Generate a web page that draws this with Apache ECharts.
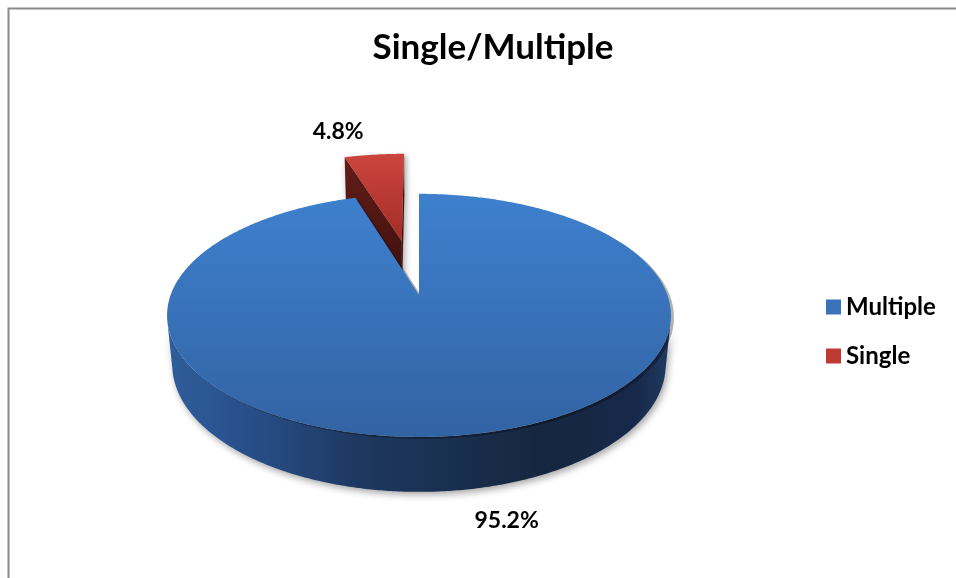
<!DOCTYPE html>
<html>
<head>
<meta charset="utf-8">
<script src="https://cdn.jsdelivr.net/npm/echarts@6/dist/echarts.min.js"></script>
<style>
html, body { margin: 0; padding: 0; background: #ffffff; }
#chart { width: 956px; height: 578px; }
</style>
</head>
<body>
<div id="chart"></div>
<script>
// Chart data
const categories = ['Multiple', 'Single'];
const shares = [95.2, 4.8];
const titleText = 'Single/Multiple';

// Perspective camera used to draw the 3D pie (screen centre, focal length,
// camera distance in pie radii, tilt of the view, slab thickness in radii)
const view = { cx: 419, cy: 295, focal: 1304, dist: 5.25, tilt: 28.4 * Math.PI / 180, depth: 0.228 };
// How far each slice is pulled out from the centre (in pie radii)
const explodeBy = [0, 0.5];
// Label offset from the slice rim, in pixels
const labelShift = [[44, 31], [-36, -23]];

const palette = [
  {
    legend: '#3a73ba',
    top: ['#3e80ce', '#3263a3'],
    wall: [[0, '#2f5d9b'], [0.12, '#2a5290'], [0.4, '#1d375d'], [0.75, '#15263f'], [0.93, '#17294a'], [1, '#1f3a62']],
    side: ['#24456f', '#1a3050']
  },
  {
    legend: '#bd3a33',
    top: ['#cb453d', '#a42d27'],
    wall: [[0, '#6a1f1a'], [1, '#3a0e0b']],
    side: ['#641d18', '#3c0f0c']
  }
];

const ct = Math.cos(view.tilt), st = Math.sin(view.tilt);
const camZ = view.dist * ct;

function project(X, Y, Z) {
  const up = Y * ct - Z * st;
  const dz = view.dist - (Y * st + Z * ct);
  return [view.cx + view.focal * X / dz, view.cy - view.focal * up / dz];
}

function rim(deg, Y, o) {
  const t = deg * Math.PI / 180;
  return project(o[0] + Math.sin(t), Y, o[1] - Math.cos(t));
}

function arc(a, b, Y, o) {
  const n = Math.max(2, Math.ceil((b - a) / 0.5));
  const pts = [];
  for (let i = 0; i <= n; i++) pts.push(rim(a + (b - a) * i / n, Y, o));
  return pts;
}

function makeRenderer(ci) {
  return function (params, api) {
    const value = api.value(0);
    const total = shares.reduce((s, v) => s + v, 0);
    let before = 0;
    for (let i = 0; i < ci; i++) before += shares[i];
    // angles measured clockwise from 12 o'clock
    const a = before / total * 360;
    const b = (before + value) / total * 360;
    const mid = (a + b) / 2;
    const mr = mid * Math.PI / 180;
    const e = explodeBy[ci];
    const o = [e * Math.sin(mr), -e * Math.cos(mr)];
    const H = -view.depth;
    const col = palette[ci];
    const children = [];
    const shadow = { shadowBlur: 7, shadowColor: 'rgba(0,0,0,0.35)', shadowOffsetX: 2, shadowOffsetY: 3 };

    const sideFill = new echarts.graphic.LinearGradient(0, 0, 0, 1, [
      { offset: 0, color: col.side[0] }, { offset: 1, color: col.side[1] }
    ]);

    // radial cut faces
    const aR = a * Math.PI / 180, bR = b * Math.PI / 180;
    const startVis = o[0] * Math.cos(aR) - (camZ - o[1]) * Math.sin(aR);
    const endVis = -o[0] * Math.cos(bR) + (camZ - o[1]) * Math.sin(bR);
    const cTop = project(o[0], 0, o[1]);
    const cBot = project(o[0], H, o[1]);
    if (startVis > 1e-6) {
      children.push({
        type: 'polygon',
        shape: { points: [cTop, rim(a, 0, o), rim(a, H, o), cBot] },
        style: Object.assign({ fill: sideFill }, shadow)
      });
    }
    if (endVis > 1e-6) {
      children.push({
        type: 'polygon',
        shape: { points: [cTop, rim(b, 0, o), rim(b, H, o), cBot] },
        style: Object.assign({ fill: sideFill }, shadow)
      });
    }

    // outer wall: keep the runs that face the camera
    const runs = [];
    let cur = null;
    const step = 0.5;
    for (let t = a; t <= b + 1e-9; t += step) {
      const tr = t * Math.PI / 180;
      const vis = -o[0] * Math.sin(tr) - (camZ - o[1]) * Math.cos(tr) - 1 > 0;
      if (vis) {
        if (!cur) { cur = [t, t]; runs.push(cur); }
        cur[1] = t;
      } else {
        cur = null;
      }
    }
    runs.forEach(function (r) {
      const topArc = arc(r[0], r[1], 0, o);
      const botArc = arc(r[0], r[1], H, o).reverse();
      children.push({
        type: 'polygon',
        shape: { points: topArc.concat(botArc) },
        style: Object.assign({
          fill: new echarts.graphic.LinearGradient(0, 0, 1, 0,
            col.wall.map(s => ({ offset: s[0], color: s[1] })))
        }, shadow)
      });
    });

    // top face
    children.push({
      type: 'polygon',
      shape: { points: [cTop].concat(arc(a, b, 0, o)) },
      style: {
        fill: new echarts.graphic.LinearGradient(0, 0, 0, 1, [
          { offset: 0, color: col.top[0] }, { offset: 1, color: col.top[1] }
        ]),
        shadowBlur: ci === 0 ? 0 : 5,
        shadowColor: 'rgba(0,0,0,0.3)',
        shadowOffsetX: 3,
        shadowOffsetY: 2
      }
    });

    // value label
    const front = Math.cos(mr) < 0;
    const anchor = rim(mid, front ? H : 0, o);
    children.push({
      type: 'text',
      x: anchor[0] + labelShift[ci][0],
      y: anchor[1] + labelShift[ci][1],
      style: {
        text: value.toFixed(1) + '%',
        fill: '#000000',
        font: 'bold 23px Lato',
        align: 'center',
        verticalAlign: 'middle'
      }
    });

    return { type: 'group', children: children };
  };
}

// slices drawn back to front: the small exploded slice sits behind
const drawOrder = [1, 0];

const chart = echarts.init(document.getElementById('chart'), null, { renderer: 'canvas' });
chart.setOption({
  backgroundColor: '#ffffff',
  animation: false,
  title: {
    text: titleText,
    left: 488,
    top: 25,
    textAlign: 'center',
    textStyle: { fontFamily: 'Lato', fontWeight: 'bold', fontSize: 35, color: '#000000' }
  },
  legend: {
    orient: 'vertical',
    left: 821,
    top: 289,
    icon: 'rect',
    itemWidth: 15,
    itemHeight: 15,
    itemGap: 23,
    selectedMode: false,
    data: categories,
    textStyle: { fontFamily: 'Lato', fontWeight: 'bold', fontSize: 24, lineHeight: 26, color: '#000000' }
  },
  graphic: [{
    type: 'polyline',
    silent: true,
    shape: { points: [[8.5, 578], [8.5, 8.5], [956, 8.5]] },
    style: { stroke: '#8a8a8a', lineWidth: 2, fill: null }
  }],
  series: drawOrder.map(function (ci) {
    return {
      type: 'custom',
      name: categories[ci],
      coordinateSystem: 'none',
      silent: true,
      itemStyle: { color: palette[ci].legend },
      renderItem: makeRenderer(ci),
      data: [[shares[ci]]]
    };
  })
});
</script>
</body>
</html>
